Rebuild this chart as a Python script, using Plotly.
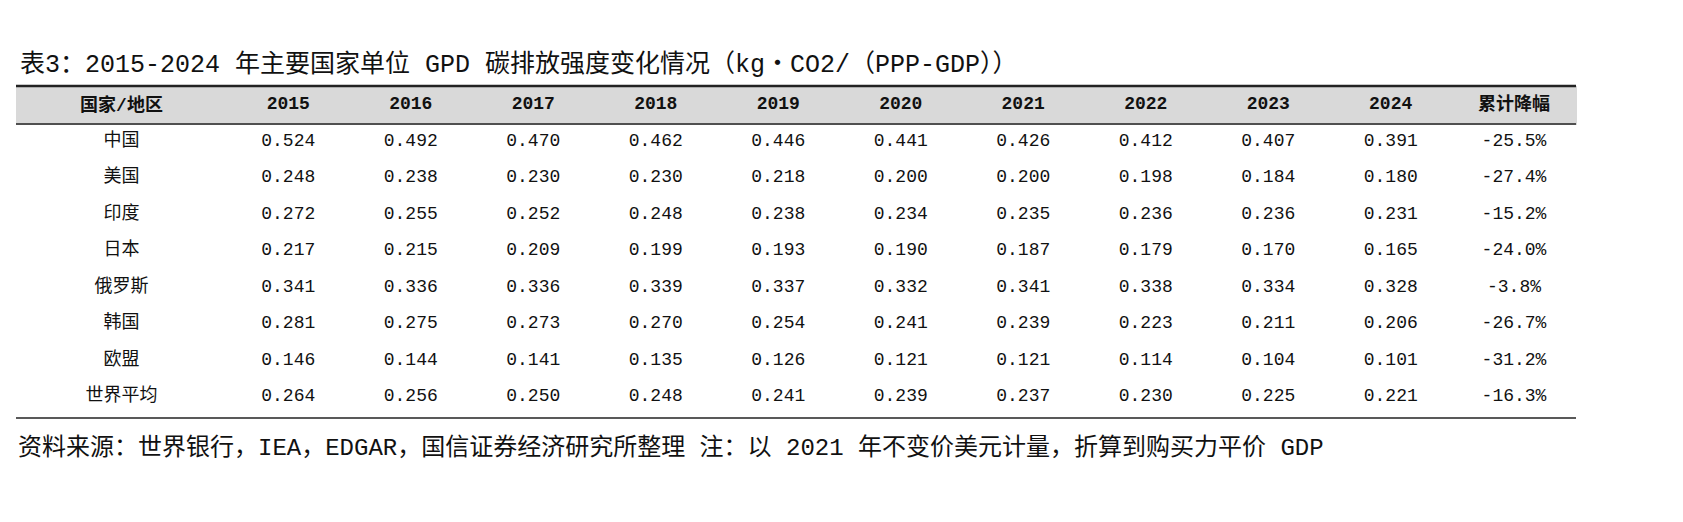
import plotly.graph_objects as go

W, H = 1683, 522

header = ["国家/地区", "2015", "2016", "2017", "2018", "2019", "2020", "2021", "2022", "2023", "2024", "累计降幅"]
regions = ["中国", "美国", "印度", "日本", "俄罗斯", "韩国", "欧盟", "世界平均"]
y2015 = [0.524, 0.248, 0.272, 0.217, 0.341, 0.281, 0.146, 0.264]
y2016 = [0.492, 0.238, 0.255, 0.215, 0.336, 0.275, 0.144, 0.256]
y2017 = [0.470, 0.230, 0.252, 0.209, 0.336, 0.273, 0.141, 0.250]
y2018 = [0.462, 0.230, 0.248, 0.199, 0.339, 0.270, 0.135, 0.248]
y2019 = [0.446, 0.218, 0.238, 0.193, 0.337, 0.254, 0.126, 0.241]
y2020 = [0.441, 0.200, 0.234, 0.190, 0.332, 0.241, 0.121, 0.239]
y2021 = [0.426, 0.200, 0.235, 0.187, 0.341, 0.239, 0.121, 0.237]
y2022 = [0.412, 0.198, 0.236, 0.179, 0.338, 0.223, 0.114, 0.230]
y2023 = [0.407, 0.184, 0.236, 0.170, 0.334, 0.211, 0.104, 0.225]
y2024 = [0.391, 0.180, 0.231, 0.165, 0.328, 0.206, 0.101, 0.221]
decline = ["-25.5%", "-27.4%", "-15.2%", "-24.0%", "-3.8%", "-26.7%", "-31.2%", "-16.3%"]

title = "表3：2015-2024 年主要国家单位 GPD 碳排放强度变化情况（kg・CO2/（PPP-GDP））"
source = "资料来源：世界银行，IEA，EDGAR，国信证券经济研究所整理 注：以 2021 年不变价美元计量，折算到购买力平价 GDP"

FONT = "Liberation Mono, Noto Sans CJK SC"
years = [y2015, y2016, y2017, y2018, y2019, y2020, y2021, y2022, y2023, y2024]
cells = [regions] + [[f"{v:.3f}" for v in col] for col in years] + [decline]

left, right = 8, 1568
top, bottom = 78, 410


def py(px):
    return 1 - px / H


fig = go.Figure(
    go.Table(
        domain={"x": [left / W, right / W], "y": [py(bottom + 4), py(top)]},
        columnwidth=[211] + [122.5] * 10 + [124],
        header={
            "values": [f"<b>{h}</b>" for h in header],
            "fill_color": "#d9d9d9",
            "line_color": "#d9d9d9",
            "align": "center",
            "height": 38,
            "font": {"family": FONT, "size": 18, "color": "#111"},
        },
        cells={
            "values": cells,
            "fill_color": "white",
            "line_color": "white",
            "align": "center",
            "height": 36.5,
            "font": {"family": FONT, "size": 18, "color": "#111"},
        },
    )
)

shapes = []
for ypx, w in [(top, 2.5), (top + 38, 1.5), (bottom, 1.5)]:
    shapes.append(dict(type="line", xref="paper", yref="paper", x0=left / W, x1=right / W,
                       y0=py(ypx), y1=py(ypx), line={"color": "#222", "width": w}))

fig.update_layout(
    width=W, height=H,
    margin={"l": 0, "r": 0, "t": 0, "b": 0},
    paper_bgcolor="white",
    shapes=shapes,
    annotations=[
        dict(text=title, xref="paper", yref="paper", x=10 / W, y=py(57), xanchor="left", yanchor="middle",
             showarrow=False, font={"family": FONT, "size": 25, "color": "#111"}),
        dict(text=source, xref="paper", yref="paper", x=8 / W, y=py(440), xanchor="left", yanchor="middle",
             showarrow=False, font={"family": FONT, "size": 24, "color": "#111"}),
    ],
)

fig.write_html("out.html")
